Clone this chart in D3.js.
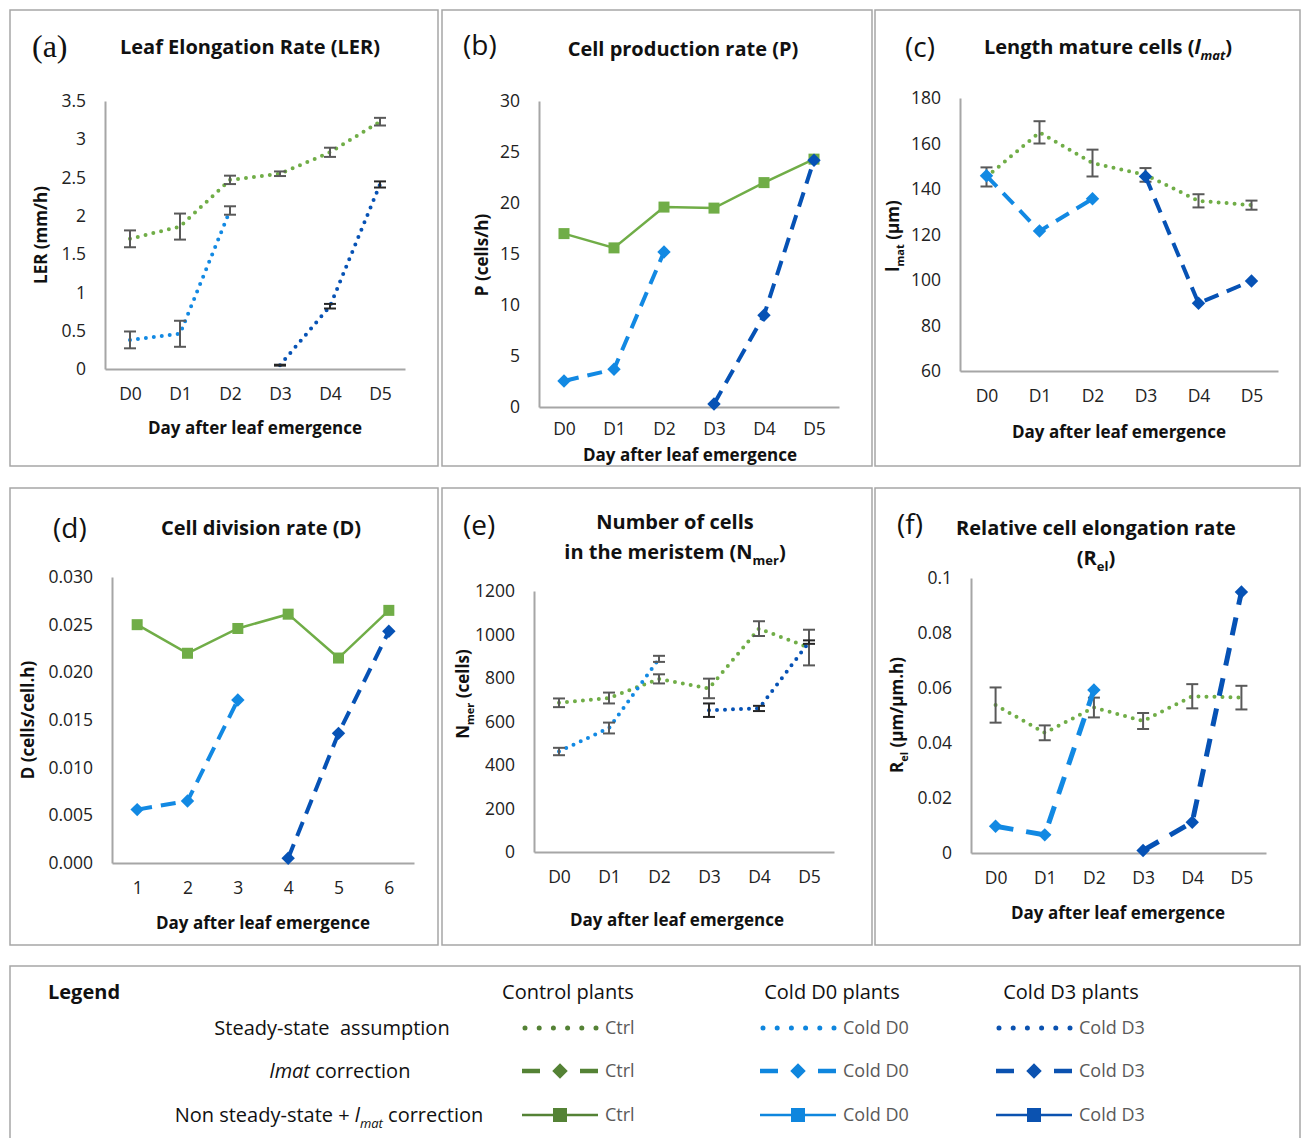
<!DOCTYPE html>
<html>
<head>
<meta charset="utf-8">
<script src="https://cdn.jsdelivr.net/npm/d3@7"></script>
<style>
body { margin: 0; background: #fff; }
svg text { font-family: "Open Sans", sans-serif; white-space: pre; }
</style>
</head>
<body>
<svg id="fig" width="1301" height="1138"></svg>
<script>
var days = ["D0", "D1", "D2", "D3", "D4", "D5"];
var dayNums = ["1", "2", "3", "4", "5", "6"];

// (a) leaf elongation rate (mm/h)
var lerTicks = [0, 0.5, 1, 1.5, 2, 2.5, 3, 3.5];
var lerCtrl = [1.70, 1.86, 2.47, 2.55, 2.83, 3.23];
var lerCtrlErr = [0.11, 0.17, 0.055, 0.03, 0.06, 0.05];
var lerColdD0 = [0.38, 0.46, 2.07, null, null, null];
var lerColdD0Err = [0.11, 0.17, 0.055, null, null, null];
var lerColdD3 = [null, null, null, 0.05, 0.82, 2.41];
var lerColdD3Err = [null, null, null, 0.006, 0.03, 0.04];

// (b) cell production rate (cells/h)
var pTicks = [0, 5, 10, 15, 20, 25, 30];
var pCtrl = [17.0, 15.6, 19.6, 19.5, 22.0, 24.3];
var pColdD0 = [2.55, 3.7, 15.2, null, null, null];
var pColdD3 = [null, null, null, 0.3, 9.0, 24.2];

// (c) length of mature cells (µm)
var lmatTicks = [60, 80, 100, 120, 140, 160, 180];
var lmatCtrl = [145.3, 164.9, 151.4, 146.2, 134.8, 132.9];
var lmatCtrlErr = [4.2, 4.9, 5.9, 3.0, 2.9, 2.0];
var lmatColdD0 = [145.8, 121.5, 135.7, null, null, null];
var lmatColdD3 = [null, null, null, 145.5, 89.8, 99.6];

// (d) cell division rate (cells/cell.h)
var dTicks = [0, 0.005, 0.010, 0.015, 0.020, 0.025, 0.030];
var dCtrl = [0.0250, 0.0220, 0.0246, 0.0261, 0.0215, 0.0265];
var dColdD0 = [0.0056, 0.0065, 0.0171, null, null, null];
var dColdD3 = [null, null, null, 0.0005, 0.0136, 0.0243];

// (e) number of cells in the meristem
var nTicks = [0, 200, 400, 600, 800, 1000, 1200];
var nCtrl = [686, 708, 796, 752, 1027, 940];
var nCtrlErr = [20, 25, 21, 45, 34, 82];
var nColdD0 = [462, 570, 888, null, null, null];
var nColdD0Err = [17, 25, 14, null, null, null];
var nColdD3 = [null, null, null, 652, 660, 965];
var nColdD3Err = [null, null, null, 31, 12, 8];

// (f) relative cell elongation rate (µm/µm.h)
var relTicks = [0, 0.02, 0.04, 0.06, 0.08, 0.1];
var relCtrl = [0.0538, 0.0437, 0.0529, 0.0480, 0.0570, 0.0565];
var relCtrlErr = [0.0064, 0.0027, 0.0036, 0.0029, 0.0044, 0.0043];
var relColdD0 = [0.0097, 0.0066, 0.0593, null, null, null];
var relColdD3 = [null, null, null, 0.0009, 0.0112, 0.0949];

// legend
var legendCols = ["Control plants", "Cold D0 plants", "Cold D3 plants"];
var legendNames = ["Ctrl", "Cold D0", "Cold D3"];

var green = "#70ad47", lightBlue = "#1289e3", darkBlue = "#0652b5";
var errGray = "#595959", errDark = "#262626", axisGray = "#a6a6a6";
var legendColors = ["#548235", "#0f86de", "#0b52b0"];

var svg = d3.select("#fig");

function rich(t, parts, size) {
    var shift = 0;
    parts.forEach(function(p) {
        var ts = t.append("tspan").text(p[0]);
        var st = p[1] || "";
        var target = 0;
        if (st.indexOf("i") >= 0) ts.attr("font-style", "italic");
        if (st.indexOf("sub") >= 0) {
            ts.attr("font-size", Math.round(size * 0.65));
            target = size * 0.3;
        }
        if (target != shift) ts.attr("dy", target - shift);
        shift = target;
    });
}

function numFmt(d) { return String(+d.toFixed(3)); }

var panels = [
    {box: [10, 10, 428, 456], x0: 105, x1: 405, yTop: 101, yBot: 369, cats: days,
     dom: [0, 3.5], ticks: lerTicks, fmt: numFmt,
     letter: "(a)", letterPos: [32, 46], serif: true,
     title: [[["Leaf Elongation Rate (LER)"]]], titlePos: [250, 47],
     ytitle: [["LER (mm/h)"]], ytitlePos: [41, 235], xtitlePos: [255, 428],
     series: [
        {v: lerCtrl, e: lerCtrlErr, c: green, kind: "dot", ec: errGray},
        {v: lerColdD0, e: lerColdD0Err, c: lightBlue, kind: "dot", ec: errGray},
        {v: lerColdD3, e: lerColdD3Err, c: darkBlue, kind: "dot", ec: errDark}
     ]},
    {box: [442, 10, 430, 456], x0: 539, x1: 839, yTop: 101, yBot: 407, cats: days,
     dom: [0, 30], ticks: pTicks, fmt: numFmt, xpad: 16,
     letter: "(b)", letterPos: [463, 45],
     title: [[["Cell production rate (P)"]]], titlePos: [683, 49],
     ytitle: [["P (cells/h)"]], ytitlePos: [482, 255], xtitlePos: [690, 455],
     series: [
        {v: pCtrl, c: green, kind: "solid"},
        {v: pColdD0, c: lightBlue, kind: "dash"},
        {v: pColdD3, c: darkBlue, kind: "dash"}
     ]},
    {box: [875, 10, 425, 456], x0: 960, x1: 1278, yTop: 98, yBot: 371, cats: days,
     dom: [60, 180], ticks: lmatTicks, fmt: numFmt,
     letter: "(c)", letterPos: [905, 47],
     title: [[["Length mature cells ("], ["l", "i"], ["mat", "isub"], [")"]]], titlePos: [1108, 47],
     ytitle: [["l"], ["mat", "sub"], [" (µm)"]], ytitlePos: [893, 236], xtitlePos: [1119, 432],
     series: [
        {v: lmatCtrl, e: lmatCtrlErr, c: green, kind: "dot", ec: errGray},
        {v: lmatColdD0, c: lightBlue, kind: "dash"},
        {v: lmatColdD3, c: darkBlue, kind: "dash"}
     ]},
    {box: [10, 488, 428, 457], x0: 112, x1: 414, yTop: 577, yBot: 863, cats: dayNums,
     dom: [0, 0.03], ticks: dTicks, fmt: d3.format(".3f"),
     letter: "(d)", letterPos: [53, 528],
     title: [[["Cell division rate (D)"]]], titlePos: [261, 528],
     ytitle: [["D (cells/cell.h)"]], ytitlePos: [28, 720], xtitlePos: [263, 923],
     series: [
        {v: dCtrl, c: green, kind: "solid"},
        {v: dColdD0, c: lightBlue, kind: "dash"},
        {v: dColdD3, c: darkBlue, kind: "dash"}
     ]},
    {box: [442, 488, 430, 457], x0: 534, x1: 834, yTop: 591, yBot: 852, cats: days,
     dom: [0, 1200], ticks: nTicks, fmt: numFmt,
     letter: "(e)", letterPos: [463, 525],
     title: [[["Number of cells"]], [["in the meristem (N"], ["mer", "sub"], [")"]]], titlePos: [675, 522],
     ytitle: [["N"], ["mer", "sub"], [" (cells)"]], ytitlePos: [463, 694], xtitlePos: [677, 920],
     series: [
        {v: nCtrl, e: nCtrlErr, c: green, kind: "dot", ec: errGray},
        {v: nColdD0, e: nColdD0Err, c: lightBlue, kind: "dot", ec: errGray},
        {v: nColdD3, e: nColdD3Err, c: darkBlue, kind: "dot", ec: errDark}
     ]},
    {box: [875, 488, 425, 457], x0: 971, x1: 1266, yTop: 578, yBot: 853, cats: days,
     dom: [0, 0.1], ticks: relTicks, fmt: numFmt,
     letter: "(f)", letterPos: [897, 524], dash: "18 13", dashW: 5,
     title: [[["Relative cell elongation rate"]], [["(R"], ["el", "sub"], [")"]]], titlePos: [1096, 528],
     ytitle: [["R"], ["el", "sub"], [" (µm/µm.h)"]], ytitlePos: [897, 715], xtitlePos: [1118, 913],
     series: [
        {v: relCtrl, e: relCtrlErr, c: green, kind: "dot", ec: errGray},
        {v: relColdD0, c: lightBlue, kind: "dash"},
        {v: relColdD3, c: darkBlue, kind: "dash"}
     ]}
];

function diamond(g, x, y, c, s) {
    g.append("rect").attr("x", -s / 2).attr("y", -s / 2).attr("width", s).attr("height", s)
        .attr("fill", c).attr("transform", "translate(" + x + "," + y + ") rotate(45)");
}

function drawPanel(p) {
    var g = svg.append("g");
    g.append("rect").attr("x", p.box[0]).attr("y", p.box[1])
        .attr("width", p.box[2]).attr("height", p.box[3])
        .attr("fill", "none").attr("stroke", axisGray).attr("stroke-width", 1.5);

    var x = d3.scalePoint().domain(p.cats).range([p.x0, p.x1]).padding(0.5);
    var y = d3.scaleLinear().domain(p.dom).range([p.yBot, p.yTop]);

    var ya = g.append("g").attr("transform", "translate(" + p.x0 + ",0)")
        .call(d3.axisLeft(y).tickValues(p.ticks).tickFormat(p.fmt).tickSize(0).tickSizeOuter(0).tickPadding(19));
    var xa = g.append("g").attr("transform", "translate(0," + p.yBot + ")")
        .call(d3.axisBottom(x).tickSize(0).tickSizeOuter(0).tickPadding(p.xpad || 19));
    [ya, xa].forEach(function(a) {
        a.attr("font-family", null).attr("font-size", null);
        a.select(".domain").attr("stroke", axisGray).attr("stroke-width", 2);
        a.selectAll("text").attr("font-size", 17.5).attr("fill", "#222");
    });

    var line = d3.line()
        .defined(function(d) { return d != null; })
        .x(function(d, i) { return x(p.cats[i]); })
        .y(function(d) { return y(d); });

    p.series.forEach(function(s) {
        var path = g.append("path").datum(s.v).attr("d", line)
            .attr("fill", "none").attr("stroke", s.c);
        if (s.kind == "dot") {
            path.attr("stroke-width", 4).attr("stroke-dasharray", "0 8").attr("stroke-linecap", "round");
        } else if (s.kind == "dash") {
            path.attr("stroke-width", p.dashW || 4).attr("stroke-dasharray", p.dash || "15 9");
        } else {
            path.attr("stroke-width", 2.5);
        }
        s.v.forEach(function(v, i) {
            if (v == null) return;
            var cx = x(p.cats[i]), cy = y(v);
            if (s.kind == "solid") {
                g.append("rect").attr("x", cx - 5.5).attr("y", cy - 5.5)
                    .attr("width", 11).attr("height", 11).attr("fill", s.c);
            } else if (s.kind == "dash") {
                diamond(g, cx, cy, s.c, 9.5);
            }
        });
        if (s.e) {
            s.v.forEach(function(v, i) {
                if (v == null || s.e[i] == null) return;
                var cx = x(p.cats[i]);
                var y1 = y(v - s.e[i]), y2 = y(v + s.e[i]);
                g.append("line").attr("x1", cx).attr("x2", cx).attr("y1", y1).attr("y2", y2)
                    .attr("stroke", s.ec).attr("stroke-width", 2);
                [y1, y2].forEach(function(yy) {
                    g.append("line").attr("x1", cx - 6).attr("x2", cx + 6).attr("y1", yy).attr("y2", yy)
                        .attr("stroke", s.ec).attr("stroke-width", 2);
                });
            });
        }
    });

    var lt = g.append("text").attr("x", p.letterPos[0]).attr("y", p.letterPos[1]).attr("dy", "0.35em")
        .attr("font-size", 28).attr("fill", "#111").text(p.letter);
    if (p.serif) lt.style("font-family", "'Liberation Serif', serif").attr("font-size", 32);

    p.title.forEach(function(ln, k) {
        var t = g.append("text").attr("x", p.titlePos[0]).attr("y", p.titlePos[1] + k * 30)
            .attr("dy", "0.35em").attr("text-anchor", "middle")
            .attr("font-size", 20).attr("font-weight", "bold").attr("fill", "#111");
        rich(t, ln, 20);
    });

    var yt = g.append("text").attr("text-anchor", "middle").attr("dy", "0.35em")
        .attr("transform", "translate(" + p.ytitlePos[0] + "," + p.ytitlePos[1] + ") rotate(-90)")
        .attr("font-size", 17).attr("font-weight", "bold").attr("fill", "#111");
    rich(yt, p.ytitle, 17);

    g.append("text").attr("x", p.xtitlePos[0]).attr("y", p.xtitlePos[1]).attr("dy", "0.35em")
        .attr("text-anchor", "middle").attr("font-size", 17).attr("font-weight", "bold")
        .attr("fill", "#111").text("Day after leaf emergence");
}

panels.forEach(drawPanel);

// legend box
var lg = svg.append("g");
lg.append("rect").attr("x", 10).attr("y", 966).attr("width", 1290).attr("height", 190)
    .attr("fill", "none").attr("stroke", axisGray).attr("stroke-width", 1.5);
lg.append("text").attr("x", 48).attr("y", 992).attr("dy", "0.35em")
    .attr("font-size", 20).attr("font-weight", "bold").attr("fill", "#111").text("Legend");

var rowY = [1028, 1071, 1115];
var rowCx = [332, 340, 329];
var rowLabels = [
    [["Steady-state  assumption"]],
    [["lmat", "i"], [" correction"]],
    [["Non steady-state + "], ["l", "i"], ["mat", "isub"], [" correction"]]
];
rowLabels.forEach(function(r, k) {
    var t = lg.append("text").attr("x", rowCx[k]).attr("y", rowY[k]).attr("dy", "0.35em")
        .attr("text-anchor", "middle").attr("font-size", 20).attr("fill", "#111");
    rich(t, r, 20);
});

var colX = [522, 760, 996];
var colCx = [568, 832, 1071];
legendCols.forEach(function(name, c) {
    lg.append("text").attr("x", colCx[c]).attr("y", 992).attr("dy", "0.35em")
        .attr("text-anchor", "middle").attr("font-size", 20).attr("fill", "#111").text(name);
    var sx = colX[c], col = legendColors[c];
    // dotted sample
    lg.append("line").attr("x1", sx + 3).attr("x2", sx + 75).attr("y1", rowY[0]).attr("y2", rowY[0])
        .attr("stroke", col).attr("stroke-width", 5).attr("stroke-linecap", "round")
        .attr("stroke-dasharray", "0 14.2");
    // dash + diamond
    lg.append("line").attr("x1", sx).attr("x2", sx + 76).attr("y1", rowY[1]).attr("y2", rowY[1])
        .attr("stroke", col).attr("stroke-width", 4.5).attr("stroke-dasharray", "18 20 0 20 18");
    diamond(lg, sx + 38, rowY[1], col, 11);
    // solid + square
    lg.append("line").attr("x1", sx).attr("x2", sx + 76).attr("y1", rowY[2]).attr("y2", rowY[2])
        .attr("stroke", col).attr("stroke-width", 2.5);
    lg.append("rect").attr("x", sx + 31).attr("y", rowY[2] - 7).attr("width", 14).attr("height", 14)
        .attr("fill", col);
    rowY.forEach(function(yy) {
        lg.append("text").attr("x", sx + 83).attr("y", yy).attr("dy", "0.35em")
            .attr("font-size", 18).attr("fill", "#595959").text(legendNames[c]);
    });
});
</script>
</body>
</html>
